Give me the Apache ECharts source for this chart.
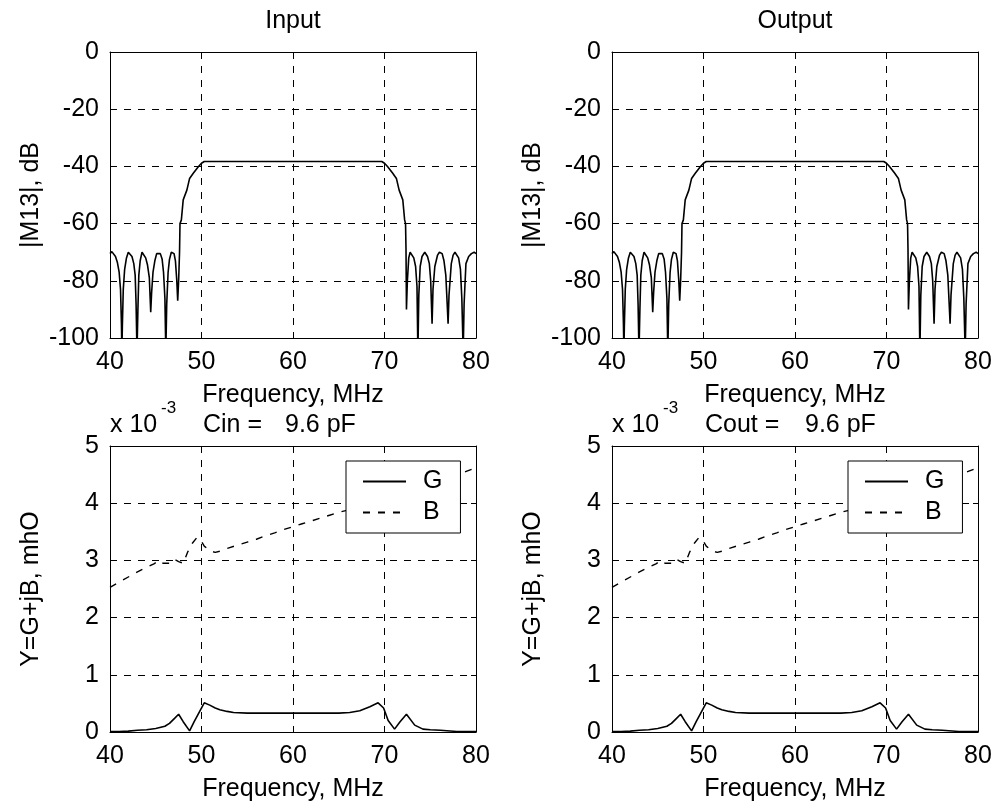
<!DOCTYPE html>
<html><head><meta charset="utf-8">
<script src="https://cdn.jsdelivr.net/npm/echarts@6/dist/echarts.min.js"></script>
<style>html,body{margin:0;padding:0;background:#fff}#c{width:995px;height:811px}</style>
</head><body><div id="c"></div>
<script>
// ---- tick labels ----
const freqTicks = [40, 50, 60, 70, 80];
const dbTicks = [-100, -80, -60, -40, -20, 0];
const admTicks = [0, 1, 2, 3, 4, 5];

// ---- texts ----
const panelTitles = ['Input', 'Output'];
const capNames = ['Cin =', 'Cout ='];
const capValues = ['9.6 pF', '9.6 pF'];
const xName = 'Frequency, MHz';
const yNames = ['|M13|, dB', 'Y=G+jB, mhO'];
const seriesNames = ['G', 'B'];

// ---- |M13| in dB (same curve in Input and Output panels) ----
const m13Freq = [40.0,40.2,40.4,40.6,40.8,41.0,41.15,41.25,41.3,41.35,41.45,41.6,41.8,42.0,42.2,42.4,42.6,42.75,42.85,42.95,43.05,43.15,43.3,43.5,43.7,43.9,44.1,44.3,44.45,44.55,44.7,44.9,45.1,45.3,45.5,45.7,45.85,46.0,46.1,46.2,46.35,46.5,46.7,46.85,47.0,47.15,47.3,47.4,47.5,47.6,47.65,47.8,48.0,48.4,48.7,49.1,49.65,50.0,50.3,69.7,70.0,70.35,70.9,71.3,71.6,72.0,72.2,72.3,72.35,72.4,72.5,72.65,72.8,73.0,73.2,73.4,73.55,73.65,73.75,73.9,74.1,74.4,74.7,74.9,75.05,75.2,75.3,75.5,75.8,76.0,76.3,76.5,76.7,76.85,76.95,77.05,77.3,77.5,77.7,77.9,78.1,78.3,78.45,78.6,78.7,78.9,79.2,79.5,79.8,80.0];
const m13Db = [-70.5,-69.8,-70.0,-71.5,-73.5,-77,-83,-95,-105,-96,-83,-76,-72,-70,-70,-71.5,-74,-78,-88,-105,-90,-78,-73,-70,-70.5,-72,-74.5,-79,-91,-84,-77,-73,-70.5,-70,-70.5,-72.5,-77,-86,-105,-88,-77,-72.5,-70,-69.5,-70.5,-73,-80,-87,-80,-70,-60,-58.7,-51.7,-48.3,-44.2,-42.4,-40.1,-38.9,-38.3,-38.3,-38.9,-40.1,-42.4,-44.2,-48.3,-51.7,-58.7,-60,-69,-90,-80,-72,-70,-70.5,-72,-75,-82,-105,-85,-75,-71.5,-70,-71.5,-74,-80,-95,-83,-75,-71,-70,-70.5,-73,-78,-88,-95,-85,-74,-71,-70,-70.5,-72,-76,-86,-105,-88,-74,-71.5,-70.5,-70,-70.5];

// ---- admittance, x 10^-3 mhO (same curves in Input and Output panels) ----
const gFreq = [40,41,42,43,44,45,46,46.5,47,47.5,48.0,48.7,49.2,49.7,50.3,50.9,51.5,52,52.8,53.5,55,60,65,66.2,67.3,68.4,69.3,69.9,70.4,71.1,71.7,72.4,73.3,74.2,75,76.1,77.9,80];
const gAdm = [0.01,0.01,0.015,0.03,0.04,0.06,0.1,0.15,0.23,0.31,0.18,0.02,0.18,0.33,0.51,0.47,0.42,0.39,0.36,0.34,0.33,0.33,0.33,0.34,0.37,0.44,0.51,0.42,0.2,0.05,0.18,0.31,0.12,0.05,0.04,0.03,0.01,0.01];
const bFreq = [40,41,42,43,44,44.8,45.4,45.8,46.5,47.0,47.5,48.0,48.5,49.0,49.5,49.9,50.3,50.9,51.5,52,53,54,55,56,57,58,59,60,61,62,63,64,65,66,67,68,69,69.7,70.3,71,72,72.6,73.5,75,77,79,80];
const bAdm = [2.53,2.62,2.71,2.8,2.88,2.94,3.0,2.95,2.95,3.02,2.98,2.95,3.15,3.3,3.4,3.36,3.25,3.17,3.14,3.16,3.22,3.27,3.32,3.37,3.43,3.48,3.54,3.59,3.64,3.69,3.74,3.79,3.84,3.88,3.93,3.98,4.05,4.12,4.05,4.12,4.22,4.18,4.25,4.33,4.44,4.56,4.62];

const zip = (xs, ys) => xs.map((x, i) => [x, ys[i]]);

const FF = '"Liberation Sans", Arial, sans-serif';
const FS = 25;
const txt = {color: '#000', fontSize: FS, fontFamily: FF};
const GL = [110, 612], GT = [52, 446], GW = 366, GH = 286;

const grid = [], xAxis = [], yAxis = [], series = [], legend = [], graphic = [];
const yTickSets = [dbTicks, admTicks];

for (let r = 0; r < 2; r++) {
  for (let c = 0; c < 2; c++) {
    const gi = r * 2 + c;
    grid.push({left: GL[c], top: GT[r], width: GW, height: GH, containLabel: false});
    const xt = freqTicks, yt = yTickSets[r];
    const xBase = {gridIndex: gi, type: 'value', min: xt[0], max: xt[xt.length - 1], interval: xt[1] - xt[0]};
    const yBase = {gridIndex: gi, type: 'value', min: yt[0], max: yt[yt.length - 1], interval: yt[1] - yt[0]};
    const line = {show: true, onZero: false, lineStyle: {color: '#000', width: 1}};
    const tick = {show: true, inside: true, length: 5, lineStyle: {color: '#000', width: 1}};
    xAxis.push(Object.assign({}, xBase, {
      position: 'bottom', axisLine: line, axisTick: tick,
      axisLabel: Object.assign({margin: 12, showMinLabel: true, showMaxLabel: true}, txt),
      splitLine: {show: true, lineStyle: {color: '#000', width: 1, type: [7, 7]}},
      name: xName, nameLocation: 'middle', nameGap: 45, nameTextStyle: txt
    }));
    xAxis.push(Object.assign({}, xBase, {
      position: 'top', axisLine: line, axisTick: tick, axisLabel: {show: false}, splitLine: {show: false}
    }));
    yAxis.push(Object.assign({}, yBase, {
      position: 'left', axisLine: line, axisTick: tick,
      axisLabel: Object.assign({margin: 11, showMinLabel: true, showMaxLabel: true}, txt),
      splitLine: {show: true, lineStyle: {color: '#000', width: 1, type: [7, 7]}},
      name: yNames[r], nameLocation: 'middle', nameGap: 66, nameTextStyle: txt
    }));
    yAxis.push(Object.assign({}, yBase, {
      position: 'right', axisLine: line, axisTick: tick, axisLabel: {show: false}, splitLine: {show: false}
    }));
    const xi = gi * 2, yi = gi * 2;
    if (r === 0) {
      series.push({type: 'line', name: 'M13', xAxisIndex: xi, yAxisIndex: yi, data: zip(m13Freq, m13Db),
        symbol: 'none', clip: true, lineStyle: {color: '#000', width: 1.6}});
    } else {
      series.push({type: 'line', name: seriesNames[0], xAxisIndex: xi, yAxisIndex: yi, data: zip(gFreq, gAdm),
        symbol: 'none', clip: true, color: '#000', lineStyle: {color: '#000', width: 1.6, type: 'solid'}});
      series.push({type: 'line', name: seriesNames[1], xAxisIndex: xi, yAxisIndex: yi, data: zip(bFreq, bAdm),
        symbol: 'none', clip: true, color: '#000', lineStyle: {color: '#000', width: 1.4, type: [7, 8]}});
    }
  }
}

for (let c = 0; c < 2; c++) {
  legend.push({
    data: seriesNames, orient: 'vertical', left: GL[c] + 236, top: 461,
    backgroundColor: '#fff', borderColor: '#000', borderWidth: 1, borderRadius: 0,
    padding: [8, 18, 8, 16], itemGap: 6, itemWidth: 43, itemHeight: 14,
    itemStyle: {color: 'rgba(0,0,0,0)', borderColor: 'rgba(0,0,0,0)', borderWidth: 0, opacity: 0},
    textStyle: Object.assign({lineHeight: 25, padding: [0, 0, 0, 12]}, txt),
    selectedMode: false, z: 10
  });
  const cx = GL[c] + GW / 2;
  graphic.push({type: 'text', x: cx, y: 21, style: {text: panelTitles[c], fill: '#000', font: FS + 'px ' + FF, textAlign: 'center', textVerticalAlign: 'middle'}});
  graphic.push({type: 'text', x: GL[c], y: 425, style: {text: 'x 10', fill: '#000', font: FS + 'px ' + FF, textAlign: 'left', textVerticalAlign: 'middle'}});
  graphic.push({type: 'text', x: GL[c] + 51, y: 408, style: {text: '-3', fill: '#000', font: '17px ' + FF, textAlign: 'left', textVerticalAlign: 'middle'}});
  graphic.push({type: 'text', x: GL[c] + 93, y: 425, style: {text: capNames[c], fill: '#000', font: FS + 'px ' + FF, textAlign: 'left', textVerticalAlign: 'middle'}});
  graphic.push({type: 'text', x: GL[c] + (c === 0 ? 175 : 193), y: 425, style: {text: capValues[c], fill: '#000', font: FS + 'px ' + FF, textAlign: 'left', textVerticalAlign: 'middle'}});
}

const chart = echarts.init(document.getElementById('c'), null, {renderer: 'canvas'});
chart.setOption({animation: false, backgroundColor: '#fff', grid, xAxis, yAxis, series, legend, graphic});
</script></body></html>
